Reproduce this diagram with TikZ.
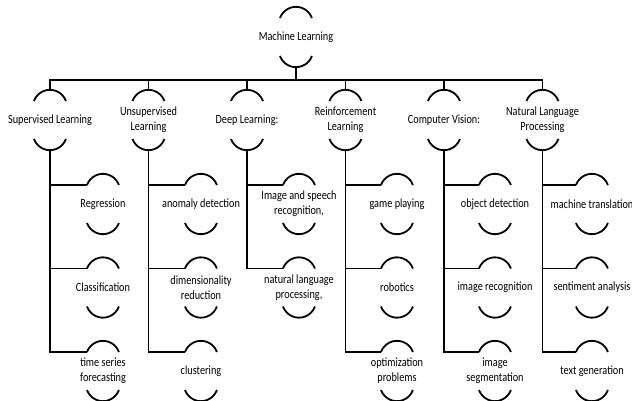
\documentclass[tikz,border=0pt]{standalone}
\usepackage{fontspec}
\setmainfont[FakeStretch=0.82]{Carlito}
\begin{document}
\begin{tikzpicture}[x=1pt, y=1pt,
    main/.style = {inner sep=0pt, minimum height=60pt, align=center, font=\fontsize{12.5}{15}\selectfont},
    wire/.style = {line width=1.8pt}]
    \useasboundingbox (0,0) rectangle (632,-401);
    % root
    \node[main] (ml) at (296,-37) {Machine Learning};
    % fields
    \node[main] (sl) at (50,-120) {Supervised Learning};
    \node[main] (ul) at (148.5,-120) {Unsupervised\\Learning};
    \node[main] (dl) at (247,-120) {Deep Learning:};
    \node[main] (rl) at (345.5,-120) {Reinforcement\\Learning};
    \node[main] (cv) at (444,-120) {Computer Vision:};
    \node[main] (nl) at (542.5,-120) {Natural Language\\Processing};
    % tasks
    \node[main] (sl1) at (103,-204) {Regression};
    \node[main] (sl2) at (103,-287.5) {Classification};
    \node[main] (sl3) at (103,-371) {time series\\forecasting};
    \node[main] (ul1) at (201,-204) {anomaly detection};
    \node[main] (ul2) at (201,-287.5) {dimensionality\\reduction};
    \node[main] (ul3) at (201,-371) {clustering};
    \node[main] (dl1) at (299,-204) {Image and speech\\recognition,};
    \node[main] (dl2) at (299,-287.5) {natural language\\processing,};
    \node[main] (rl1) at (397,-204) {game playing};
    \node[main] (rl2) at (397,-287.5) {robotics};
    \node[main] (rl3) at (397,-371) {optimization\\problems};
    \node[main] (cv1) at (495,-204) {object detection};
    \node[main] (cv2) at (495,-287.5) {image recognition};
    \node[main] (cv3) at (495,-371) {image\\segmentation};
    \node[main] (nl1) at (592,-204) {machine translation};
    \node[main] (nl2) at (592,-287.5) {sentiment analysis};
    \node[main] (nl3) at (592,-371) {text generation};
    % arcs above and below each text
    \foreach \n in {ml,sl,ul,dl,rl,cv,nl,sl1,sl2,sl3,ul1,ul2,ul3,dl1,dl2,rl1,rl2,rl3,cv1,cv2,cv3,nl1,nl2,nl3} {
        \draw[wire] ([shift={(-16,-11.2)}]\n.north) arc[start angle=160, end angle=20, radius=17pt];
        \draw[wire] ([shift={(-16,11.2)}]\n.south) arc[start angle=200, end angle=340, radius=17pt];
    }
    % connectors
    \foreach \g in {sl,ul,dl,rl,cv,nl}
        \draw[wire] (ml.south) -- ++(0,-13) -| (\g.north);
    \foreach \g/\c in {sl/sl1,sl/sl2,sl/sl3,ul/ul1,ul/ul2,ul/ul3,dl/dl1,dl/dl2,rl/rl1,rl/rl2,rl/rl3,cv/cv1,cv/cv2,cv/cv3,nl/nl1,nl/nl2,nl/nl3}
        \draw[wire] (\g.south) |- ([shift={(-16,-11.2)}]\c.north);
\end{tikzpicture}
\end{document}
